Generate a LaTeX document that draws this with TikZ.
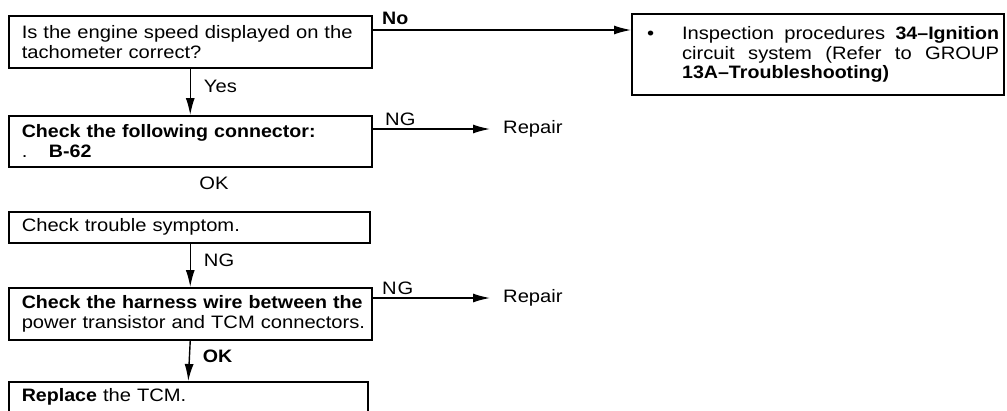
\documentclass[tikz,border=0pt]{standalone}
\usepackage{fontspec}
\setmainfont{Liberation Sans}[UprightFeatures={FakeStretch=1.12}, BoldFeatures={FakeStretch=1.09}]
\usetikzlibrary{arrows.meta}

\tikzset{
  stepbox/.style={draw, line width=1.5pt, anchor=north west, inner xsep=13pt,
    inner ysep=0pt, align=left, font=\fontsize{18}{20}\selectfont},
  arr/.style={line width=1.4pt, -{Latex[length=17pt,width=9pt]}},
  lbl/.style={font=\fontsize{18}{20}\selectfont, inner sep=0pt, anchor=base west},
  result/.style={font=\fontsize{18}{20}\selectfont, inner xsep=13pt, inner ysep=0pt, anchor=west}
}

\begin{document}
\begin{tikzpicture}[x=1pt, y=-1pt]
  \useasboundingbox (0,0) rectangle (1007,410);
  \clip (0,0) rectangle (1007,410);

  % boxes down the left
  \node[stepbox, text width=337pt, minimum height=52pt] (tacho) at (8,15)
    {\mbox{Is the engine speed displayed on the}\\ \mbox{tachometer correct?}};
  \node[stepbox, text width=337pt, minimum height=51pt] (conn) at (8,115)
    {\mbox{\textbf{Check the following connector:}}\\ .\hspace{1.2em}\textbf{B-62}};
  \node[stepbox, text width=335pt, minimum height=31pt] (symp) at (8,211)
    {Check trouble symptom.};
  \node[stepbox, text width=337pt, minimum height=52pt] (harn) at (8,287)
    {\mbox{\textbf{Check the harness wire between the}}\\ \mbox{power transistor and TCM connectors.}};
  \node[stepbox, text width=333pt, inner ysep=6pt, text height=14pt, text depth=40pt] (tcm) at (8,381)
    {\textbf{Replace} the TCM.};

  % box on the right
  \node[draw, line width=2.2pt, anchor=north west, inner sep=0pt, minimum width=372pt,
    minimum height=81pt, font=\fontsize{18}{19.5}\selectfont] (insp) at (631,13)
    {\hspace{10pt}\makebox[35pt][l]{\textbullet}\parbox[t]{317pt}{
      Inspection procedures \textbf{34--Ignition}\linebreak circuit system (Refer to GROUP\linebreak
      \textbf{13A--Troubleshooting)}}\hspace{9pt}};

  \node[result] (rep1) at (490,129) {Repair};
  \node[result] (rep2) at (490,298) {Repair};
  \node[font=\fontsize{18}{20}\selectfont] (ok1) at (214,183) {OK};

  % connectors
  \draw[arr] ([yshift=-15pt]tacho.north east) -- ([yshift=-15pt]tacho.north east -| insp.west)
    node[lbl, pos=0, xshift=9pt, yshift=6pt] {\textbf{No}};
  \draw[arr] (tacho.south) -- (conn.north)
    node[lbl, midway, xshift=13pt, yshift=-1pt] {Yes};
  \draw[arr] (conn.east |- rep1.west) -- (rep1.west)
    node[lbl, pos=0, xshift=12pt, yshift=4pt] {NG};
  \draw[arr] (symp.south -| harn.south) -- (harn.north)
    node[lbl, midway, xshift=13pt, yshift=-1pt] {NG};
  \draw[arr] (harn.east |- rep2.west) -- (rep2.west)
    node[lbl, pos=0, xshift=9pt, yshift=4pt] {N\hspace{1pt}G};
  \draw[arr] (harn.south) -- (tcm.north)
    node[lbl, midway, xshift=13pt, yshift=-2pt] {\textbf{OK}};
\end{tikzpicture}
\end{document}
